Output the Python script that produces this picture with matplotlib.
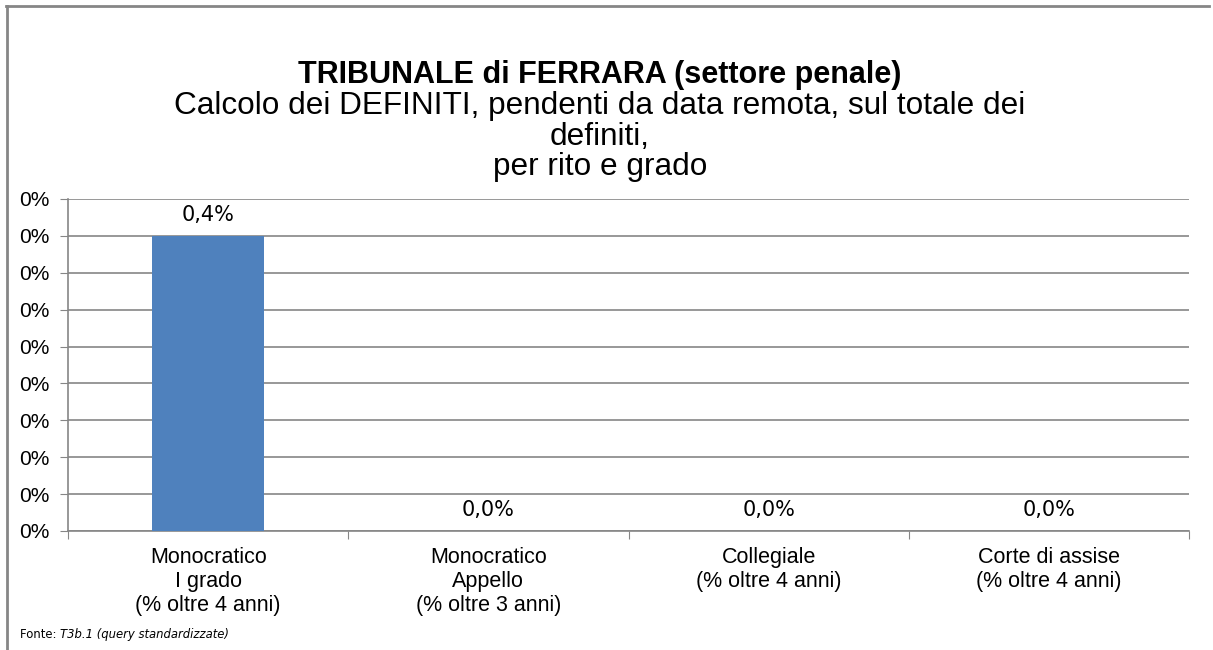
import matplotlib
matplotlib.use("Agg")
import matplotlib.pyplot as plt
from matplotlib.ticker import FuncFormatter, MultipleLocator
from matplotlib.lines import Line2D

categories = ["Monocratico\nI grado\n(% oltre 4 anni)",
              "Monocratico\nAppello\n(% oltre 3 anni)",
              "Collegiale\n(% oltre 4 anni)",
              "Corte di assise\n(% oltre 4 anni)"]
values = [0.004, 0.0, 0.0, 0.0]
value_labels = ["0,4%", "0,0%", "0,0%", "0,0%"]

W, H = 1213, 650
fig = plt.figure(figsize=(W/100, H/100), dpi=100)
ax = fig.add_axes([68/W, 1-531/H, (1189-68)/W, (531-199)/H])

grid_c = "#868686"
x = list(range(len(categories)))
ax.bar(x, values, width=0.4, color="#4F81BD", zorder=3)
ax.set_xlim(-0.5, len(categories)-0.5)
ax.set_ylim(0, 0.0045)
ax.yaxis.set_major_locator(MultipleLocator(0.0005))
ax.yaxis.set_major_formatter(FuncFormatter(lambda v, p: "0%"))
ax.grid(axis="y", color=grid_c, linewidth=1.2, zorder=0)
for s in ["top", "right"]:
    ax.spines[s].set_visible(False)
ax.spines["left"].set_color(grid_c)
ax.spines["bottom"].set_color(grid_c)
ax.spines["left"].set_linewidth(1.2)
ax.spines["bottom"].set_linewidth(1.2)
ax.set_xticks([i + 0.5 for i in range(-1, len(categories))], minor=False)
ax.set_xticklabels([])
ax.tick_params(axis="x", length=6, color=grid_c, direction="out")
ax.tick_params(axis="y", length=6, color=grid_c, direction="out", pad=7)
for lab in ax.get_yticklabels():
    lab.set_fontfamily("Liberation Sans")
    lab.set_fontsize(15)
for i, c in enumerate(categories):
    ax.text(i, -0.00022, c, ha="center", va="top", fontsize=15.5,
            family="Liberation Sans", linespacing=1.17, transform=ax.transData)
for i, (v, l) in enumerate(zip(values, value_labels)):
    ax.text(i, v + 0.00015, l, ha="center", va="bottom", fontsize=15,
            family="DejaVu Sans")

fig.text(600/W, 1-75/H, "TRIBUNALE di FERRARA (settore penale)", ha="center", va="center",
         fontsize=22, fontweight="bold", family="Liberation Sans")
fig.text(600/W, 1-106/H, "Calcolo dei DEFINITI, pendenti da data remota, sul totale dei",
         ha="center", va="center", fontsize=22.7, family="Liberation Sans")
fig.text(600/W, 1-137/H, "definiti,", ha="center", va="center", fontsize=22.7, family="Liberation Sans")
fig.text(600/W, 1-167/H, "per rito e grado", ha="center", va="center", fontsize=22.7, family="Liberation Sans")

t1 = fig.text(20/W, 1-638/H, "Fonte: ", ha="left", va="baseline", fontsize=8.4, family="DejaVu Sans")
fig.canvas.draw()
bb = t1.get_window_extent(renderer=fig.canvas.get_renderer())
fig.text(bb.x1/W, 1-638/H, "T3b.1 (query standardizzate)", ha="left", va="baseline", fontsize=8.4,
         family="DejaVu Sans", style="italic")

fig.add_artist(Line2D([6/W, 1209/W], [1-6/H, 1-6/H], color=grid_c, linewidth=2, transform=fig.transFigure))
fig.add_artist(Line2D([7/W, 7/W], [1-6/H, 0], color=grid_c, linewidth=2, transform=fig.transFigure))

fig.savefig("out.png", dpi=100)
